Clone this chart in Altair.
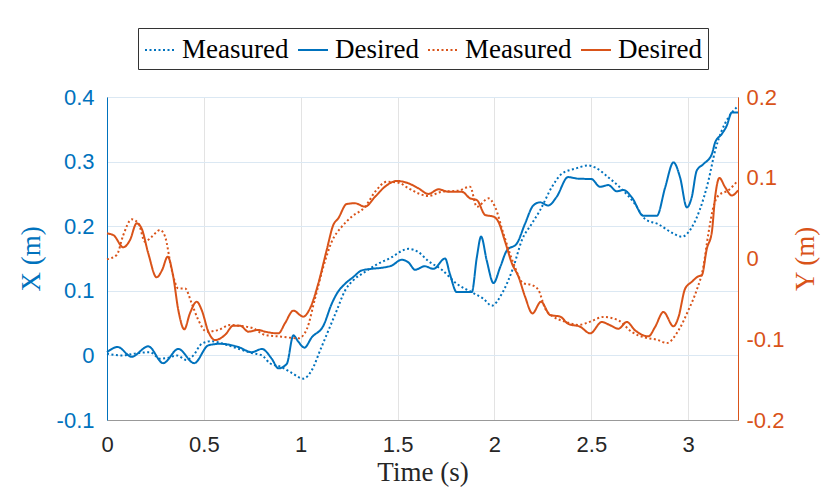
import altair as alt
import pandas as pd

BLUE = "#0072BD"
ORANGE = "#D95319"

# X desired (blue solid)
t_xd = [0.0, 0.055, 0.127, 0.213, 0.29, 0.368, 0.45, 0.523, 0.583, 0.678, 0.747, 0.80, 0.85, 0.885, 0.928,
        0.962, 0.988, 1.019, 1.057, 1.117, 1.16, 1.186, 1.229, 1.27, 1.315, 1.366, 1.427, 1.47, 1.52, 1.556,
        1.59, 1.64, 1.685, 1.745, 1.77, 1.805, 1.883, 1.909, 1.931, 1.96, 1.995, 2.03, 2.064, 2.115, 2.158,
        2.20, 2.235, 2.278, 2.32, 2.38, 2.433, 2.50, 2.545, 2.588, 2.631, 2.666, 2.709, 2.769, 2.838, 2.881,
        2.924, 2.958, 2.993, 3.018, 3.044, 3.078, 3.122, 3.139, 3.173, 3.199, 3.225, 3.257]
v_xd = [0.005, 0.013, -0.002, 0.014, -0.012, 0.010, -0.012, 0.0155, 0.018, 0.013, 0.005, 0.010, -0.005, -0.02,
        -0.013, 0.031, 0.021, 0.012, 0.028, 0.046, 0.080, 0.0955, 0.111, 0.121, 0.1316, 0.134, 0.136, 0.139,
        0.148, 0.144, 0.1326, 0.138, 0.134, 0.150, 0.126, 0.098, 0.098, 0.152, 0.184, 0.147, 0.112, 0.137,
        0.1625, 0.173, 0.204, 0.232, 0.237, 0.232, 0.245, 0.276, 0.2735, 0.273, 0.261, 0.2637, 0.254, 0.256,
        0.2446, 0.216, 0.216, 0.260, 0.2988, 0.2755, 0.229, 0.2446, 0.286, 0.296, 0.3116, 0.3297, 0.3426,
        0.3556, 0.376, 0.376]

# X measured (blue dotted)
t_xm = [0.0, 0.076, 0.16, 0.222, 0.274, 0.317, 0.36, 0.41, 0.446, 0.489, 0.54, 0.609, 0.678, 0.747, 0.80,
        0.84, 0.90, 0.953, 1.013, 1.057, 1.10, 1.143, 1.186, 1.229, 1.27, 1.33, 1.40, 1.47, 1.52, 1.556, 1.607,
        1.659, 1.728, 1.805, 1.891, 1.943, 1.986, 2.038, 2.098, 2.141, 2.193, 2.235, 2.296, 2.347, 2.416,
        2.485, 2.519, 2.588, 2.657, 2.726, 2.778, 2.846, 2.915, 2.967, 3.018, 3.061, 3.104, 3.139, 3.173,
        3.207, 3.25]
v_xm = [0.0026, 0.0, 0.0036, 0.005, -0.005, -0.0036, 0.0, -0.007, 0.0, 0.018, 0.022, 0.017, 0.0104, 0.0036,
        0.0, -0.012, -0.018, -0.027, -0.036, -0.023, 0.0077, 0.0387, 0.0697, 0.1006, 0.116, 0.129, 0.142, 0.152,
        0.1615, 0.165, 0.160, 0.146, 0.1326, 0.111, 0.0965, 0.0877, 0.077, 0.0955, 0.137, 0.178, 0.204, 0.2245,
        0.2605, 0.281, 0.289, 0.294, 0.291, 0.2755, 0.2575, 0.234, 0.211, 0.203, 0.190, 0.1837, 0.198, 0.2265,
        0.270, 0.317, 0.348, 0.368, 0.384]

# Y desired (orange solid)
t_yd = [0.0, 0.033, 0.084, 0.119, 0.153, 0.179, 0.213, 0.256, 0.285, 0.313, 0.342, 0.368, 0.399, 0.428, 0.463,
        0.489, 0.523, 0.558, 0.609, 0.652, 0.687, 0.73, 0.781, 0.816, 0.885, 0.919, 0.962, 1.013, 1.048, 1.091,
        1.134, 1.168, 1.194, 1.237, 1.28, 1.332, 1.384, 1.435, 1.496, 1.547, 1.607, 1.659, 1.711, 1.762, 1.831,
        1.874, 1.909, 1.952, 1.995, 2.02, 2.055, 2.09, 2.124, 2.158, 2.196, 2.24, 2.287, 2.339, 2.381, 2.442,
        2.494, 2.554, 2.597, 2.64, 2.683, 2.726, 2.795, 2.829, 2.872, 2.924, 2.95, 2.984, 3.018, 3.053, 3.07,
        3.096, 3.122, 3.139, 3.161, 3.19, 3.225, 3.257]
v_yd = [0.031, 0.029, 0.0139, 0.023, 0.0436, 0.037, 0.0064, -0.0233, -0.014, 0.0022, -0.0225, -0.0638,
        -0.0877, -0.068, -0.0535, -0.064, -0.0906, -0.101, -0.0947, -0.0832, -0.0832, -0.0906, -0.0885,
        -0.0906, -0.0927, -0.080, -0.0646, -0.072, -0.0617, -0.0307, 0.0105, 0.0415, 0.0498, 0.0675, 0.0684,
        0.0642, 0.0765, 0.089, 0.096, 0.0939, 0.087, 0.080, 0.0857, 0.0827, 0.0827, 0.0745, 0.0724, 0.0539,
        0.0518, 0.0456, 0.0208, -0.006, -0.0225, -0.0473, -0.068, -0.0535, -0.070, -0.072, -0.081, -0.0845,
        -0.0927, -0.0786, -0.0827, -0.087, -0.0786, -0.089, -0.0964, -0.0848, -0.0662, -0.084, -0.0724,
        -0.0374, -0.029, -0.022, -0.0208, 0.012, 0.0328, 0.0762, 0.0997, 0.0885, 0.078, 0.0845]

# Y measured (orange dotted)
t_ym = [0.0, 0.05, 0.084, 0.127, 0.162, 0.196, 0.231, 0.274, 0.30, 0.334, 0.368, 0.403, 0.437, 0.471, 0.515,
        0.575, 0.635, 0.695, 0.755, 0.816, 0.90, 0.988, 1.031, 1.074, 1.117, 1.16, 1.212, 1.263, 1.332, 1.384,
        1.444, 1.504, 1.556, 1.607, 1.659, 1.728, 1.814, 1.874, 1.909, 1.969, 2.003, 2.046, 2.098, 2.149,
        2.193, 2.227, 2.261, 2.304, 2.365, 2.433, 2.494, 2.562, 2.64, 2.709, 2.778, 2.838, 2.89, 2.95, 3.001,
        3.044, 3.078, 3.104, 3.13, 3.156, 3.207, 3.25]
v_ym = [-0.001, 0.0043, 0.029, 0.0485, 0.0436, 0.0208, 0.027, 0.0353, 0.027, -0.014, -0.037, -0.037,
        -0.0555, -0.076, -0.0906, -0.0885, -0.0823, -0.0836, -0.0865, -0.0947, -0.0968, -0.0989, -0.0877,
        -0.0493, -0.010, 0.0208, 0.0394, 0.0518, 0.064, 0.0827, 0.095, 0.0939, 0.087, 0.0807, 0.0774, 0.0827,
        0.084, 0.089, 0.064, 0.0745, 0.064, 0.031, -0.006, -0.0307, -0.0328, -0.039, -0.0617, -0.072, -0.0782,
        -0.0823, -0.0782, -0.0724, -0.0766, -0.091, -0.098, -0.1005, -0.1046, -0.089, -0.064, -0.039, -0.0105,
        0.0307, 0.0638, 0.078, 0.0845, 0.0947]

x_ticks = [0, 0.5, 1, 1.5, 2, 2.5, 3]
left_ticks = [-0.1, 0, 0.1, 0.2, 0.3, 0.4]
right_ticks = [-0.2, -0.1, 0, 0.1, 0.2]

keys = ["X Measured", "X Desired", "Y Measured", "Y Desired"]
frames = []
for k, ax, ts, vs in [("X Measured", "X", t_xm, v_xm), ("X Desired", "X", t_xd, v_xd),
                      ("Y Measured", "Y", t_ym, v_ym), ("Y Desired", "Y", t_yd, v_yd)]:
    frames.append(pd.DataFrame({"t": ts, "v": vs, "key": k, "axis": ax}))
df = pd.concat(frames, ignore_index=True)

SERIF = "Liberation Serif"
SANS = "Liberation Sans"
DOT = [2, 2.5]

legend = alt.Legend(orient="none", legendX=31, legendY=-69, direction="horizontal",
                    symbolType="stroke", symbolSize=900, symbolStrokeWidth=2,
                    labelFont=SERIF, labelFontSize=27, labelColor="black", labelLimit=300,
                    labelOffset=6, columnPadding=5, padding=6,
                    strokeColor="#333333", fillColor="white",
                    labelExpr="split(datum.label, ' ')[1]")

color = alt.Color("key:N", title=None,
                  scale=alt.Scale(domain=keys, range=[BLUE, BLUE, ORANGE, ORANGE]),
                  legend=legend)
dash = alt.StrokeDash("key:N", title=None,
                      scale=alt.Scale(domain=keys, range=[DOT, [1, 0], DOT, [1, 0]]),
                      legend=legend)

x_enc = alt.X("t:Q", scale=alt.Scale(domain=[0, 3.257], nice=False, zero=False),
              axis=alt.Axis(title="Time (s)", values=x_ticks, labelExpr="toString(round(datum.value*10)/10)",
                            titleFont=SERIF, titleFontSize=27, titleFontWeight="normal", titleColor="#262626",
                            labelFont=SANS, labelFontSize=22, labelColor="#262626", labelFlush=False,
                            labelPadding=14, titlePadding=4, ticks=False,
                            domainColor="#999999", grid=True, gridColor="#e3e3e3"))

blue = alt.Chart(df).transform_filter(alt.datum.axis == "X").mark_line(
    strokeWidth=2, interpolate="monotone").encode(
    x=x_enc,
    y=alt.Y("v:Q", scale=alt.Scale(domain=[-0.1, 0.4], nice=False, zero=False),
            axis=alt.Axis(orient="left", title="X (m)", values=left_ticks,
                          labelExpr="toString(round(datum.value*10)/10)",
                          titleFont=SERIF, titleFontSize=27, titleFontWeight="normal", titleColor=BLUE,
                          titleAngle=270, titlePadding=11,
                          labelFont=SANS, labelFontSize=22, labelColor=BLUE, labelFlush=False,
                          labelPadding=13, ticks=False, domainColor=BLUE,
                          grid=True, gridColor="#dbe8f3")),
    color=color, strokeDash=dash)

orange = alt.Chart(df).transform_filter(alt.datum.axis == "Y").mark_line(
    strokeWidth=2, interpolate="monotone").encode(
    x=x_enc,
    y=alt.Y("v:Q", scale=alt.Scale(domain=[-0.2, 0.2], nice=False, zero=False),
            axis=alt.Axis(orient="right", title="Y (m)", values=right_ticks,
                          labelExpr="toString(round(datum.value*10)/10)",
                          titleFont=SERIF, titleFontSize=27, titleFontWeight="normal", titleColor=ORANGE,
                          titleAngle=270, titlePadding=36,
                          labelFont=SANS, labelFontSize=22, labelColor=ORANGE, labelFlush=False,
                          labelPadding=8, ticks=False, domainColor=ORANGE, grid=False)),
    color=color, strokeDash=dash)

chart = alt.layer(blue, orange).resolve_scale(y="independent").properties(
    width=631, height=323,
    autosize=alt.AutoSizeParams(type="none"),
    padding={"left": 99, "top": 89, "right": 84, "bottom": 69},
    background="white",
).configure_view(stroke="#999999", strokeWidth=1)

chart.save("out.html", embed_options={"renderer": "svg", "actions": False})
